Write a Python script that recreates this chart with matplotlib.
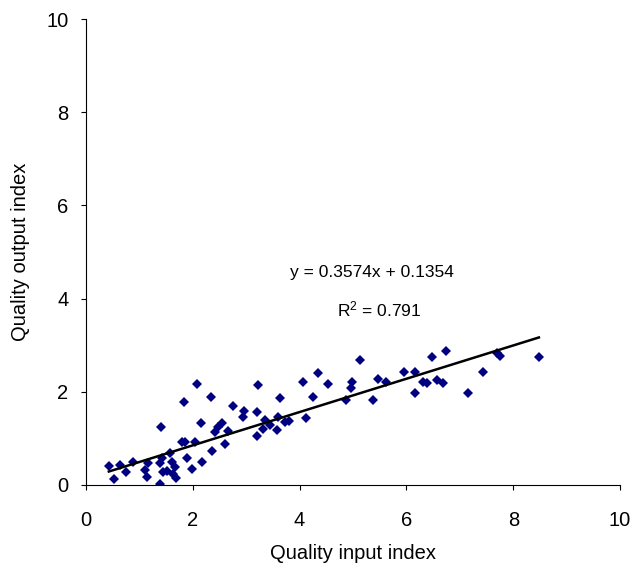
import numpy as np
import matplotlib
matplotlib.use("Agg")
import matplotlib.pyplot as plt

# Data
# -----------------------------------------------------------------------------

quality_input = [0.43, 0.52, 0.64, 0.75, 0.88, 1.10, 1.14, 1.16, 1.39, 1.40,
                 1.42, 1.39, 1.44, 1.52, 1.57, 1.61, 1.63, 1.67, 1.69, 1.80,
                 1.85, 1.84, 1.89, 1.99, 2.04, 2.08, 2.15, 2.17, 2.34, 2.36,
                 2.42, 2.47, 2.55, 2.60, 2.66, 2.75, 2.94, 2.96, 3.20, 3.22,
                 3.20, 3.31, 3.35, 3.45, 3.58, 3.60, 3.73, 3.80, 3.63, 4.06,
                 4.12, 4.25, 4.34, 4.53, 4.87, 4.96, 4.98, 5.13, 5.37, 5.47,
                 5.62, 5.96, 6.16, 6.16, 6.31, 6.39, 6.48, 6.57, 6.69, 6.74,
                 7.15, 7.43, 7.70, 7.75, 8.48]

quality_output = [0.41, 0.13, 0.43, 0.28, 0.49, 0.32, 0.17, 0.47, 0.47, 1.24,
                  0.58, 0.02, 0.28, 0.30, 0.69, 0.49, 0.24, 0.39, 0.15, 0.92,
                  0.92, 1.78, 0.58, 0.34, 0.92, 2.17, 1.33, 0.49, 1.89, 0.73,
                  1.14, 1.24, 1.33, 0.88, 1.16, 1.70, 1.46, 1.59, 1.57, 2.15,
                  1.05, 1.20, 1.39, 1.29, 1.18, 1.46, 1.35, 1.37, 1.87, 2.21,
                  1.44, 1.89, 2.40, 2.17, 1.82, 2.08, 2.21, 2.68, 1.82, 2.27,
                  2.21, 2.42, 2.42, 1.97, 2.21, 2.19, 2.75, 2.25, 2.19, 2.88,
                  1.97, 2.42, 2.83, 2.77, 2.75]

# trendline as printed on the chart
slope = 0.3574
intercept = 0.1354
r_squared = 0.791

ticks = [0, 2, 4, 6, 8, 10]

# Plot
# -----------------------------------------------------------------------------

plt.rcParams['font.family'] = ['Liberation Sans', 'DejaVu Sans']
plt.rcParams['mathtext.default'] = 'regular'

fig = plt.figure(figsize=(6.36, 5.76), dpi=100)
ax = fig.add_axes([0.135, 0.158, 0.84, 0.809])

ax.plot(quality_input, quality_output, linestyle='none', marker='D',
        markersize=5.3, markeredgewidth=0, color='#000080', zorder=2)

x_line = np.array([min(quality_input), max(quality_input)])
ax.plot(x_line, slope * x_line + intercept, color='black', linewidth=1.8,
        zorder=3)

ax.text(5.35, 4.57, f'y = {slope}x + {intercept}', ha='center', va='center',
        fontsize=12.5)
ax.text(5.5, 3.76, f'R$^2$ = {r_squared}', ha='center', va='center',
        fontsize=12.5)

ax.set_xlim(0, 10)
ax.set_ylim(0, 10)
ax.set_xticks(ticks)
ax.set_yticks(ticks)
ax.tick_params(direction='out', length=3.5, width=0.8, labelsize=14.5)
ax.tick_params(axis='x', pad=15)
ax.tick_params(axis='y', pad=9)
for side in ['top', 'right']:
    ax.spines[side].set_visible(False)
ax.set_xlabel('Quality input index', fontsize=14.5, labelpad=10)
ax.set_ylabel('Quality output index', fontsize=14.5, labelpad=12)

fig.savefig('out.png', dpi=100)
